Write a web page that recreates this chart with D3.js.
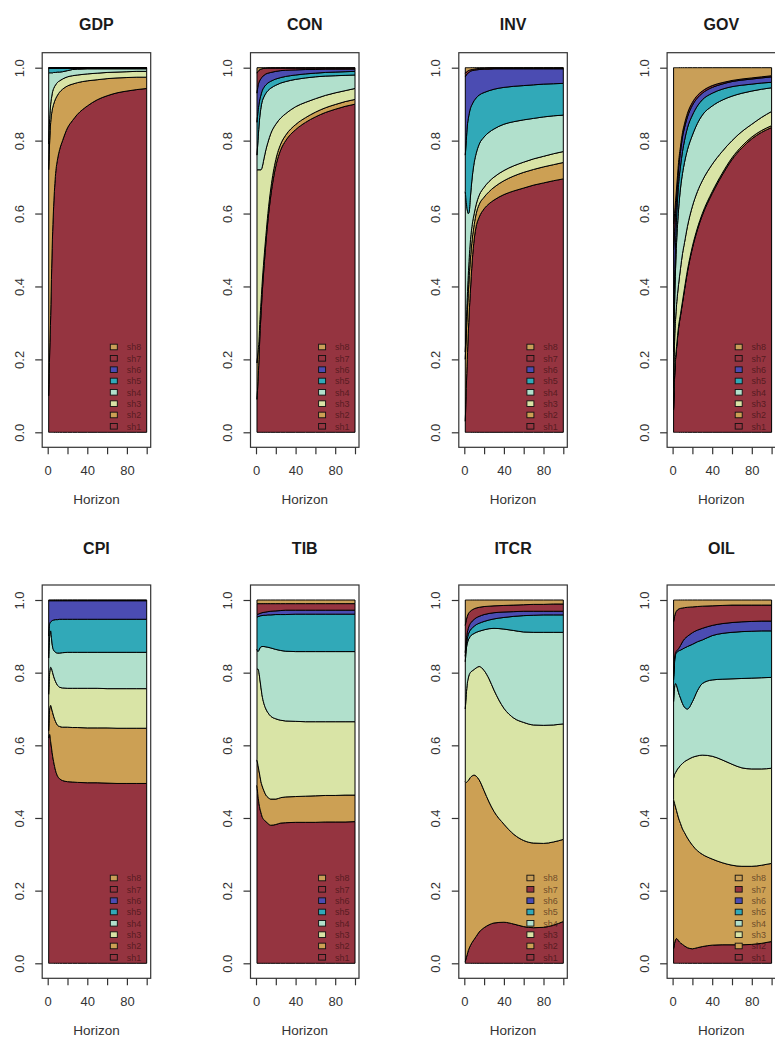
<!DOCTYPE html>
<html>
<head>
<meta charset="utf-8">
<script src="https://cdn.jsdelivr.net/npm/d3@7"></script>
<style>
  html, body { margin: 0; padding: 0; background: #ffffff; }
  svg { display: block; font-family: "Liberation Sans", Arial, sans-serif; }
</style>
</head>
<body>
<script>
// ---------------- DATA ----------------
const horizons = [1, 2, 3, 4, 5, 6, 8, 10, 12, 15, 20, 25, 30, 40, 50, 60, 70, 80, 90, 100];
const shocks = ["sh1", "sh2", "sh3", "sh4", "sh5", "sh6", "sh7", "sh8"];
const shockColors = ["#953440", "#cca054", "#d9e4a6", "#b1e0cc", "#31a9b8", "#4b4cb2", "#953440", "#c99f58"];
const variables = ["GDP", "CON", "INV", "GOV", "CPI", "TIB", "ITCR", "OIL"];
const yTicks = [0, 0.2, 0.4, 0.6, 0.8, 1.0];
const xTicks = [0, 20, 40, 60, 80, 100];
const xTickLabels = ["0", "", "40", "", "80", ""];
const xLabel = "Horizon";

// shares of each shock (sh1 ... sh8) at each horizon
const sharesGDP = [
  [0.10,0.22,0.32,0.45,0.55,0.62,0.71,0.75,0.775,0.80,0.835,0.855,0.872,0.895,0.912,0.923,0.931,0.936,0.940,0.943],
  [0.62,0.58,0.53,0.425,0.34,0.28,0.205,0.175,0.158,0.141,0.115,0.10,0.087,0.069,0.055,0.047,0.041,0.037,0.034,0.031],
  [0.07,0.06,0.05,0.045,0.045,0.043,0.038,0.035,0.031,0.028,0.025,0.023,0.021,0.019,0.018,0.017,0.016,0.016,0.016,0.016],
  [0.196,0.126,0.086,0.066,0.051,0.044,0.034,0.028,0.024,0.020,0.017,0.017,0.016,0.014,0.012,0.010,0.009,0.008,0.007,0.007],
  [0.013,0.013,0.013,0.013,0.013,0.012,0.012,0.011,0.011,0.010,0.007,0.004,0.003,0.002,0.002,0.002,0.002,0.002,0.002,0.002],
  [0.0003,0.0003,0.0003,0.0003,0.0003,0.0003,0.0003,0.0003,0.0003,0.0003,0.0003,0.0003,0.0003,0.0003,0.0003,0.0003,0.0003,0.0003,0.0003,0.0003],
  [0.0003,0.0003,0.0003,0.0003,0.0003,0.0003,0.0003,0.0003,0.0003,0.0003,0.0003,0.0003,0.0003,0.0003,0.0003,0.0003,0.0003,0.0003,0.0003,0.0003],
  [0.0004,0.0004,0.0004,0.0004,0.0004,0.0004,0.0004,0.0004,0.0004,0.0004,0.0004,0.0004,0.0004,0.0004,0.0004,0.0004,0.0004,0.0004,0.0004,0.0004]
];
const sharesCON = [
  [0.09,0.14,0.20,0.27,0.32,0.37,0.45,0.52,0.58,0.65,0.73,0.775,0.80,0.83,0.85,0.865,0.877,0.886,0.894,0.900],
  [0.10,0.08,0.05,0.04,0.035,0.03,0.025,0.02,0.02,0.02,0.018,0.016,0.015,0.014,0.013,0.013,0.013,0.013,0.013,0.013],
  [0.53,0.50,0.47,0.41,0.365,0.325,0.275,0.235,0.195,0.15,0.097,0.071,0.059,0.049,0.042,0.037,0.034,0.032,0.030,0.030],
  [0.04,0.08,0.12,0.15,0.17,0.18,0.17,0.155,0.142,0.124,0.107,0.096,0.088,0.075,0.067,0.060,0.053,0.047,0.042,0.037],
  [0.09,0.08,0.06,0.045,0.035,0.03,0.026,0.023,0.021,0.019,0.017,0.015,0.014,0.012,0.011,0.010,0.010,0.010,0.010,0.010],
  [0.08,0.07,0.06,0.051,0.045,0.039,0.033,0.030,0.027,0.024,0.021,0.019,0.017,0.014,0.012,0.010,0.009,0.008,0.007,0.006],
  [0.055,0.04,0.033,0.029,0.026,0.023,0.019,0.015,0.014,0.012,0.009,0.007,0.006,0.005,0.004,0.004,0.003,0.003,0.003,0.003],
  [0.015,0.01,0.007,0.005,0.004,0.003,0.002,0.002,0.001,0.001,0.001,0.001,0.001,0.001,0.001,0.001,0.001,0.001,0.001,0.001]
];
const sharesINV = [
  [0.03,0.12,0.20,0.27,0.33,0.38,0.47,0.53,0.565,0.59,0.613,0.627,0.637,0.652,0.662,0.670,0.678,0.684,0.690,0.695],
  [0.17,0.15,0.13,0.11,0.10,0.09,0.06,0.04,0.035,0.035,0.032,0.033,0.035,0.038,0.041,0.043,0.043,0.044,0.044,0.045],
  [0.02,0.03,0.04,0.05,0.05,0.05,0.04,0.03,0.025,0.025,0.027,0.028,0.028,0.028,0.028,0.028,0.029,0.029,0.030,0.030],
  [0.44,0.33,0.24,0.17,0.125,0.12,0.13,0.14,0.14,0.14,0.138,0.135,0.132,0.127,0.121,0.116,0.111,0.108,0.104,0.100],
  [0.10,0.17,0.23,0.26,0.27,0.247,0.20,0.17,0.152,0.135,0.122,0.114,0.109,0.101,0.097,0.094,0.092,0.090,0.088,0.087],
  [0.215,0.18,0.143,0.126,0.113,0.103,0.092,0.083,0.077,0.07,0.064,0.059,0.056,0.051,0.048,0.046,0.044,0.042,0.041,0.040],
  [0.01,0.008,0.007,0.006,0.005,0.004,0.003,0.003,0.003,0.003,0.002,0.003,0.002,0.002,0.002,0.002,0.002,0.002,0.002,0.002],
  [0.015,0.012,0.01,0.008,0.007,0.006,0.005,0.004,0.003,0.002,0.002,0.001,0.001,0.001,0.001,0.001,0.001,0.001,0.001,0.001]
];
const sharesGOV = [
  [0.06,0.15,0.20,0.23,0.26,0.285,0.32,0.355,0.39,0.44,0.505,0.555,0.595,0.655,0.705,0.748,0.78,0.805,0.823,0.836],
  [0.005,0.005,0.005,0.005,0.005,0.005,0.005,0.005,0.005,0.005,0.005,0.005,0.005,0.005,0.005,0.005,0.005,0.005,0.005,0.005],
  [0.055,0.095,0.105,0.115,0.115,0.115,0.125,0.13,0.125,0.12,0.11,0.10,0.09,0.075,0.06,0.047,0.04,0.035,0.036,0.039],
  [0.10,0.10,0.14,0.17,0.19,0.205,0.22,0.22,0.22,0.21,0.195,0.187,0.18,0.16,0.141,0.122,0.105,0.091,0.077,0.065],
  [0.08,0.07,0.07,0.07,0.07,0.07,0.06,0.06,0.06,0.06,0.055,0.048,0.042,0.035,0.03,0.026,0.022,0.019,0.017,0.015],
  [0.20,0.13,0.08,0.05,0.04,0.04,0.04,0.04,0.035,0.03,0.027,0.022,0.018,0.016,0.014,0.014,0.014,0.014,0.014,0.015],
  [0.07,0.05,0.035,0.03,0.025,0.02,0.015,0.012,0.011,0.01,0.008,0.007,0.006,0.005,0.004,0.003,0.003,0.003,0.003,0.003],
  [0.43,0.40,0.365,0.33,0.295,0.26,0.215,0.178,0.154,0.125,0.095,0.076,0.064,0.049,0.041,0.035,0.031,0.028,0.025,0.022]
];
const sharesCPI = [
  [0.62,0.63,0.61,0.59,0.57,0.555,0.53,0.515,0.508,0.503,0.50,0.499,0.498,0.497,0.497,0.496,0.495,0.495,0.495,0.495],
  [0.02,0.07,0.10,0.11,0.12,0.125,0.135,0.14,0.144,0.147,0.15,0.15,0.151,0.151,0.151,0.152,0.152,0.152,0.152,0.152],
  [0.10,0.10,0.105,0.11,0.11,0.11,0.11,0.11,0.108,0.108,0.107,0.108,0.108,0.109,0.109,0.108,0.109,0.109,0.109,0.109],
  [0.10,0.10,0.10,0.08,0.07,0.072,0.081,0.089,0.094,0.097,0.099,0.099,0.099,0.099,0.099,0.10,0.10,0.10,0.10,0.10],
  [0.06,0.035,0.025,0.052,0.074,0.083,0.09,0.092,0.093,0.092,0.091,0.091,0.091,0.091,0.091,0.091,0.091,0.091,0.091,0.091],
  [0.098,0.063,0.058,0.056,0.054,0.053,0.052,0.052,0.051,0.051,0.051,0.051,0.051,0.051,0.051,0.051,0.051,0.051,0.051,0.051],
  [0.001,0.001,0.001,0.001,0.001,0.001,0.001,0.001,0.001,0.001,0.001,0.001,0.001,0.001,0.001,0.001,0.001,0.001,0.001,0.001],
  [0.001,0.001,0.001,0.001,0.001,0.001,0.001,0.001,0.001,0.001,0.001,0.001,0.001,0.001,0.001,0.001,0.001,0.001,0.001,0.001]
];
const sharesTIB = [
  [0.49,0.46,0.44,0.425,0.415,0.405,0.395,0.39,0.385,0.38,0.382,0.386,0.387,0.388,0.388,0.388,0.389,0.389,0.389,0.39],
  [0.07,0.085,0.09,0.09,0.085,0.085,0.08,0.073,0.072,0.072,0.07,0.07,0.071,0.071,0.072,0.073,0.073,0.073,0.074,0.073],
  [0.25,0.265,0.27,0.265,0.26,0.25,0.24,0.237,0.233,0.228,0.221,0.213,0.209,0.207,0.205,0.204,0.203,0.203,0.202,0.202],
  [0.055,0.048,0.062,0.088,0.111,0.132,0.157,0.171,0.18,0.188,0.191,0.192,0.192,0.192,0.193,0.193,0.193,0.193,0.193,0.193],
  [0.088,0.096,0.093,0.088,0.086,0.085,0.086,0.087,0.089,0.091,0.096,0.099,0.101,0.103,0.103,0.103,0.103,0.103,0.103,0.103],
  [0.007,0.007,0.007,0.007,0.007,0.008,0.008,0.009,0.009,0.01,0.01,0.011,0.012,0.011,0.011,0.011,0.011,0.011,0.011,0.011],
  [0.03,0.029,0.028,0.027,0.026,0.025,0.024,0.023,0.022,0.021,0.02,0.019,0.018,0.018,0.018,0.018,0.018,0.018,0.018,0.018],
  [0.01,0.01,0.01,0.01,0.01,0.01,0.01,0.01,0.01,0.01,0.01,0.01,0.01,0.01,0.01,0.01,0.01,0.01,0.01,0.01]
];
const sharesITCR = [
  [0.005,0.015,0.025,0.035,0.042,0.048,0.058,0.066,0.074,0.086,0.098,0.106,0.111,0.113,0.108,0.101,0.098,0.099,0.105,0.115],
  [0.495,0.483,0.475,0.468,0.465,0.463,0.458,0.452,0.441,0.419,0.377,0.338,0.307,0.27,0.247,0.237,0.233,0.231,0.229,0.226],
  [0.20,0.242,0.27,0.282,0.288,0.289,0.289,0.291,0.298,0.312,0.331,0.339,0.334,0.319,0.32,0.325,0.325,0.325,0.322,0.318],
  [0.13,0.125,0.11,0.105,0.10,0.10,0.10,0.099,0.098,0.097,0.112,0.138,0.17,0.218,0.241,0.249,0.255,0.256,0.255,0.252],
  [0.015,0.01,0.013,0.015,0.017,0.017,0.018,0.02,0.021,0.022,0.023,0.024,0.026,0.032,0.039,0.045,0.047,0.048,0.048,0.048],
  [0.01,0.015,0.017,0.017,0.018,0.018,0.019,0.019,0.019,0.019,0.019,0.018,0.017,0.015,0.013,0.012,0.011,0.010,0.010,0.010],
  [0.075,0.055,0.045,0.04,0.036,0.034,0.031,0.029,0.027,0.025,0.022,0.02,0.019,0.018,0.018,0.018,0.019,0.019,0.02,0.02],
  [0.07,0.055,0.045,0.038,0.034,0.031,0.027,0.024,0.022,0.02,0.018,0.017,0.016,0.015,0.014,0.013,0.012,0.012,0.011,0.011]
];
const sharesOIL = [
  [0.04,0.055,0.065,0.068,0.066,0.062,0.056,0.052,0.048,0.043,0.04,0.043,0.046,0.05,0.051,0.051,0.051,0.052,0.055,0.06],
  [0.41,0.385,0.365,0.352,0.344,0.338,0.329,0.318,0.312,0.302,0.285,0.267,0.254,0.237,0.226,0.219,0.216,0.215,0.215,0.215],
  [0.06,0.08,0.095,0.11,0.125,0.138,0.16,0.18,0.195,0.215,0.242,0.261,0.273,0.283,0.283,0.278,0.271,0.268,0.265,0.262],
  [0.21,0.24,0.245,0.235,0.22,0.207,0.185,0.165,0.15,0.14,0.153,0.179,0.197,0.21,0.222,0.235,0.246,0.25,0.251,0.25],
  [0.06,0.07,0.08,0.09,0.103,0.115,0.132,0.15,0.163,0.172,0.158,0.135,0.12,0.122,0.126,0.128,0.129,0.129,0.129,0.128],
  [0.01,0.01,0.005,0.005,0.005,0.006,0.013,0.02,0.025,0.028,0.032,0.032,0.032,0.028,0.027,0.027,0.027,0.027,0.027,0.027],
  [0.15,0.115,0.11,0.11,0.11,0.109,0.102,0.093,0.086,0.08,0.071,0.065,0.061,0.054,0.05,0.048,0.046,0.045,0.044,0.044],
  [0.06,0.045,0.035,0.03,0.027,0.025,0.023,0.022,0.021,0.02,0.019,0.018,0.017,0.016,0.015,0.014,0.014,0.014,0.014,0.014]
];
const panelShares = [sharesGDP, sharesCON, sharesINV, sharesGOV, sharesCPI, sharesTIB, sharesITCR, sharesOIL];

// ---------------- LAYOUT ----------------
const W = 775, H = 1045;
const colX0 = [47.7, 256.0, 464.3, 672.6];      // pixel of horizon 0 in each column
const dataW = 99;                                 // pixels from horizon 0 to 100
const rowY1 = [67.7, 600.0];                      // pixel of share 1.0
const rowY0 = [432.3, 963.3];                     // pixel of share 0.0
const titleY = [30, 554];

const svg = d3.select("body").append("svg")
  .attr("width", W).attr("height", H)
  .attr("viewBox", `0 0 ${W} ${H}`);

const stack = d3.stack().keys(shocks).offset(d3.stackOffsetExpand);

variables.forEach((name, p) => {
  const col = p % 4, row = Math.floor(p / 4);
  const x = d3.scaleLinear().domain([0, 100]).range([colX0[col], colX0[col] + dataW]);
  const y = d3.scaleLinear().domain([0, 1]).range([rowY0[row], rowY1[row]]);
  const fl = x(0) - 5.5, fr = x(100) + 4, ft = y(1) - 15, fb = y(0) + 15;

  const table = horizons.map((h, i) => {
    const r = { h };
    shocks.forEach((s, k) => { r[s] = panelShares[p][k][i]; });
    return r;
  });
  const series = stack(table);

  const g = svg.append("g");

  const area = d3.area()
    .x(d => x(d.data.h))
    .y0(d => y(d[0]))
    .y1(d => y(d[1]))
    .curve(d3.curveMonotoneX);

  g.selectAll("path.band").data(series).join("path")
    .attr("class", "band")
    .attr("d", area)
    .attr("fill", (d, i) => shockColors[i])
    .attr("stroke", "#000")
    .attr("stroke-width", 1)
    .attr("stroke-linejoin", "round");

  // frame
  g.append("rect")
    .attr("x", fl).attr("y", ft)
    .attr("width", fr - fl).attr("height", fb - ft)
    .attr("fill", "none").attr("stroke", "#333").attr("stroke-width", 1.2);

  // y axis
  const ya = g.append("g").attr("transform", `translate(${fl},0)`)
    .call(d3.axisLeft(y).tickValues(yTicks).tickFormat(d3.format(".1f")).tickSize(7));
  ya.select(".domain").remove();
  ya.selectAll(".tick line").attr("stroke", "#333").attr("stroke-width", 1.2);
  ya.selectAll(".tick text")
    .attr("x", 0).attr("y", 0).attr("dy", null)
    .attr("text-anchor", "middle")
    .attr("transform", "translate(-18.5,0) rotate(-90)")
    .attr("fill", "#333").style("font-size", "13px")
    .style("font-family", '"Liberation Sans", Arial, sans-serif');

  // x axis
  const xa = g.append("g").attr("transform", `translate(0,${fb})`)
    .call(d3.axisBottom(x).tickValues(xTicks).tickFormat((d, i) => xTickLabels[i]).tickSize(7));
  xa.select(".domain").remove();
  xa.selectAll(".tick line").attr("stroke", "#333").attr("stroke-width", 1.2);
  xa.selectAll(".tick text")
    .attr("y", 28).attr("dy", null)
    .attr("fill", "#333").style("font-size", "13px")
    .style("font-family", '"Liberation Sans", Arial, sans-serif');

  // x label
  g.append("text")
    .attr("x", (fl + fr) / 2).attr("y", fb + 57)
    .attr("text-anchor", "middle")
    .attr("fill", "#333").style("font-size", "13.5px")
    .text(xLabel);

  // title
  g.append("text")
    .attr("x", (fl + fr) / 2).attr("y", titleY[row])
    .attr("text-anchor", "middle")
    .attr("fill", "#1a1a1a").style("font-size", "16px").style("font-weight", "bold")
    .text(name);

  // legend (bottom right, sh8 on top)
  const lg = g.append("g");
  const legendItems = shocks.slice().reverse();
  legendItems.forEach((s, j) => {
    const k = shocks.indexOf(s);
    const cy = y(0) - 6 - (legendItems.length - 1 - j) * 11.33;
    lg.append("rect")
      .attr("x", x(0) + 62.6).attr("y", cy - 2.8)
      .attr("width", 7).attr("height", 5.6)
      .attr("fill", shockColors[k]).attr("stroke", "#111").attr("stroke-width", 0.9);
    lg.append("text")
      .attr("x", x(0) + 79).attr("y", cy + 3.2)
      .attr("fill", "#2a0a0a").attr("fill-opacity", 0.6)
      .style("font-size", "9px")
      .text(s);
  });
});
</script>
</body>
</html>
